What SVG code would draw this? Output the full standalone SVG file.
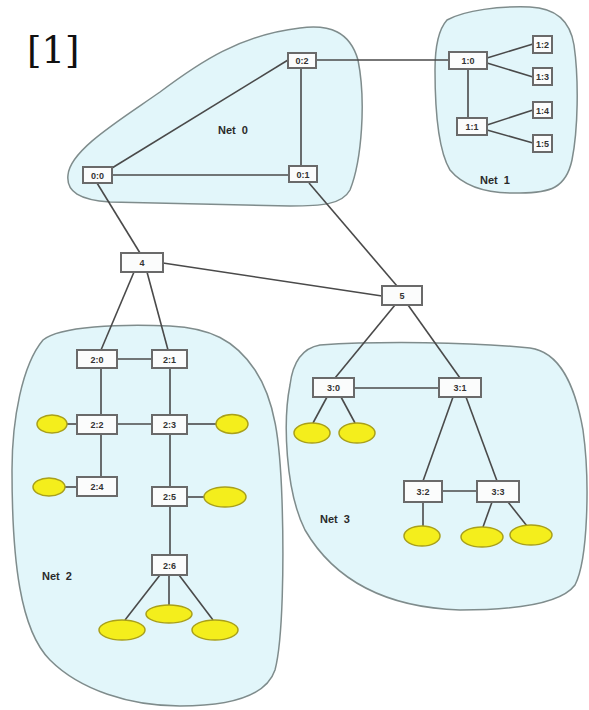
<svg xmlns="http://www.w3.org/2000/svg" width="589" height="710" viewBox="0 0 589 710">
  <style>
    .net { fill: #e2f6fa; stroke: #7f8c8c; stroke-width: 1.5; }
    .box { fill: #fbfcfc; stroke: #6a6a6a; stroke-width: 2; }
    .lbl { font-family: "Liberation Sans", Arial, sans-serif; font-weight: bold; font-size: 9px; fill: #333; text-anchor: middle; }
    .netlbl { font-family: "Liberation Sans", Arial, sans-serif; font-weight: bold; font-size: 11px; fill: #2a2a2a; white-space: pre; }
    .host { fill: #f4ee1c; stroke: #a9a01a; stroke-width: 1.5; }
    .link { stroke: #4a4a4a; stroke-width: 1.6; fill: none; }
  </style>

  <rect width="589" height="710" fill="#ffffff"/>

  <!-- reference number -->
  <text x="27" y="63" font-family="DejaVu Serif, serif" font-size="37" fill="#111">[1]</text>

  <!-- network regions -->
  <g id="regions">
    <path id="net0-area" class="net" d="M68,175 C70,150 120,120 160,92 C200,62 240,35 300,28 C330,24 350,32 358,60 C366,100 362,160 350,190 C342,205 320,206 290,206 L110,202 C80,200 66,192 68,175 Z"/>
    <path id="net1-area" class="net" d="M447,20 C465,10 500,6 530,7 C555,8 570,20 574,45 C579,80 578,130 572,160 C566,188 550,193 520,193 C490,194 465,188 450,170 C438,150 435,110 435,70 C435,48 438,30 447,20 Z"/>
    <path id="net2-area" class="net" d="M43,340 C60,326 120,324 170,326 C210,328 235,340 255,370 C275,400 280,440 282,500 C284,560 283,640 275,670 C265,700 220,706 180,706 C130,706 80,690 50,660 C20,630 12,560 12,470 C12,420 22,365 43,340 Z"/>
    <path id="net3-area" class="net" d="M320,345 C380,341 470,342 530,348 C560,352 575,385 583,430 C590,480 588,560 575,585 C560,605 510,610 460,610 C400,608 340,590 305,530 C285,490 283,420 290,385 C293,360 303,348 320,345 Z"/>
    <text class="netlbl" x="218" y="134">Net  0</text>
    <text class="netlbl" x="480" y="184">Net  1</text>
    <text class="netlbl" x="42" y="580">Net  2</text>
    <text class="netlbl" x="320" y="523">Net  3</text>
  </g>

  <!-- connectors -->
  <g id="connectors" class="link">
    <line x1="288" y1="60" x2="112" y2="168"/>
    <line x1="112" y1="175" x2="289" y2="175"/>
    <line x1="301" y1="68" x2="301" y2="166"/>
    <line x1="316" y1="60" x2="449" y2="60"/>
    <line x1="468" y1="69" x2="468" y2="118"/>
    <line x1="487" y1="58" x2="533" y2="44"/>
    <line x1="487" y1="63" x2="533" y2="77"/>
    <line x1="487" y1="125" x2="533" y2="110"/>
    <line x1="487" y1="130" x2="533" y2="143"/>
    <line x1="97" y1="183" x2="140" y2="253"/>
    <line x1="309" y1="183" x2="397" y2="286"/>
    <line x1="163" y1="263" x2="382" y2="296"/>
    <line x1="134" y1="272" x2="101" y2="350"/>
    <line x1="147" y1="272" x2="168" y2="350"/>
    <line x1="117" y1="359" x2="152" y2="359"/>
    <line x1="101" y1="368" x2="101" y2="415"/>
    <line x1="170" y1="368" x2="170" y2="415"/>
    <line x1="117" y1="424" x2="152" y2="424"/>
    <line x1="67" y1="424" x2="77" y2="424"/>
    <line x1="187" y1="424" x2="217" y2="424"/>
    <line x1="101" y1="434" x2="101" y2="477"/>
    <line x1="65" y1="487" x2="77" y2="487"/>
    <line x1="170" y1="434" x2="170" y2="487"/>
    <line x1="187" y1="497" x2="204" y2="497"/>
    <line x1="170" y1="506" x2="170" y2="555"/>
    <line x1="160" y1="575" x2="125" y2="620"/>
    <line x1="169" y1="575" x2="169" y2="605"/>
    <line x1="179" y1="575" x2="213" y2="620"/>
    <line x1="395" y1="305" x2="335" y2="378"/>
    <line x1="408" y1="305" x2="460" y2="378"/>
    <line x1="354" y1="388" x2="439" y2="388"/>
    <line x1="327" y1="397" x2="313" y2="423"/>
    <line x1="341" y1="397" x2="355" y2="423"/>
    <line x1="453" y1="397" x2="423" y2="481"/>
    <line x1="466" y1="397" x2="497" y2="481"/>
    <line x1="442" y1="491" x2="477" y2="491"/>
    <line x1="423" y1="502" x2="423" y2="526"/>
    <line x1="492" y1="502" x2="483" y2="527"/>
    <line x1="508" y1="502" x2="527" y2="526"/>
  </g>

  <!-- Net 0 nodes -->
  <g id="n0-0"><rect class="box" x="83" y="167" width="29" height="16"/><text class="lbl" x="97.5" y="178.5">0:0</text></g>
  <g id="n0-1"><rect class="box" x="289" y="166" width="28" height="16"/><text class="lbl" x="303" y="177.5">0:1</text></g>
  <g id="n0-2"><rect class="box" x="288" y="53" width="28" height="15"/><text class="lbl" x="302" y="64">0:2</text></g>

  <!-- Net 1 nodes -->
  <g id="n1-0"><rect class="box" x="449" y="52" width="38" height="17"/><text class="lbl" x="468" y="64">1:0</text></g>
  <g id="n1-1"><rect class="box" x="457" y="118" width="30" height="17"/><text class="lbl" x="472" y="130">1:1</text></g>
  <g id="n1-2"><rect class="box" x="533" y="36" width="19" height="17"/><text class="lbl" x="542.5" y="48">1:2</text></g>
  <g id="n1-3"><rect class="box" x="533" y="68" width="19" height="17"/><text class="lbl" x="542.5" y="80">1:3</text></g>
  <g id="n1-4"><rect class="box" x="533" y="102" width="19" height="16"/><text class="lbl" x="542.5" y="113.5">1:4</text></g>
  <g id="n1-5"><rect class="box" x="533" y="135" width="19" height="17"/><text class="lbl" x="542.5" y="147">1:5</text></g>

  <!-- gateways -->
  <g id="n4"><rect class="box" x="121" y="253" width="42" height="19"/><text class="lbl" x="142" y="266">4</text></g>
  <g id="n5"><rect class="box" x="382" y="286" width="40" height="19"/><text class="lbl" x="402" y="299">5</text></g>

  <!-- Net 2 nodes -->
  <g id="n2-0"><rect class="box" x="77" y="350" width="40" height="18"/><text class="lbl" x="97" y="362.5">2:0</text></g>
  <g id="n2-1"><rect class="box" x="152" y="350" width="35" height="18"/><text class="lbl" x="169.5" y="362.5">2:1</text></g>
  <g id="n2-2"><rect class="box" x="77" y="415" width="40" height="19"/><text class="lbl" x="97" y="428">2:2</text></g>
  <g id="n2-3"><rect class="box" x="152" y="415" width="35" height="19"/><text class="lbl" x="169.5" y="428">2:3</text></g>
  <g id="n2-4"><rect class="box" x="77" y="477" width="40" height="19"/><text class="lbl" x="97" y="490">2:4</text></g>
  <g id="n2-5"><rect class="box" x="152" y="487" width="35" height="19"/><text class="lbl" x="169.5" y="500">2:5</text></g>
  <g id="n2-6"><rect class="box" x="152" y="555" width="35" height="20"/><text class="lbl" x="169.5" y="568.5">2:6</text></g>

  <!-- Net 2 hosts -->
  <g id="h2-2"><ellipse class="host" cx="52" cy="424" rx="15" ry="9"/></g>
  <g id="h2-3"><ellipse class="host" cx="232" cy="424" rx="16" ry="9.5"/></g>
  <g id="h2-4"><ellipse class="host" cx="49" cy="487" rx="16" ry="9"/></g>
  <g id="h2-5"><ellipse class="host" cx="225" cy="497" rx="21" ry="10"/></g>
  <g id="h2-6a"><ellipse class="host" cx="122" cy="630" rx="23" ry="10"/></g>
  <g id="h2-6b"><ellipse class="host" cx="169" cy="614" rx="23" ry="9"/></g>
  <g id="h2-6c"><ellipse class="host" cx="215" cy="630" rx="23" ry="10"/></g>

  <!-- Net 3 nodes -->
  <g id="n3-0"><rect class="box" x="313" y="378" width="41" height="19"/><text class="lbl" x="333.5" y="391">3:0</text></g>
  <g id="n3-1"><rect class="box" x="439" y="378" width="42" height="19"/><text class="lbl" x="460" y="391">3:1</text></g>
  <g id="n3-2"><rect class="box" x="404" y="481" width="38" height="21"/><text class="lbl" x="423" y="495">3:2</text></g>
  <g id="n3-3"><rect class="box" x="477" y="481" width="42" height="21"/><text class="lbl" x="498" y="495">3:3</text></g>

  <!-- Net 3 hosts -->
  <g id="h3-0a"><ellipse class="host" cx="312" cy="433" rx="18" ry="10"/></g>
  <g id="h3-0b"><ellipse class="host" cx="357" cy="433" rx="18" ry="10"/></g>
  <g id="h3-2"><ellipse class="host" cx="422" cy="536" rx="18" ry="10"/></g>
  <g id="h3-3a"><ellipse class="host" cx="482" cy="537" rx="21" ry="10"/></g>
  <g id="h3-3b"><ellipse class="host" cx="531" cy="535" rx="21" ry="10"/></g>
</svg>
